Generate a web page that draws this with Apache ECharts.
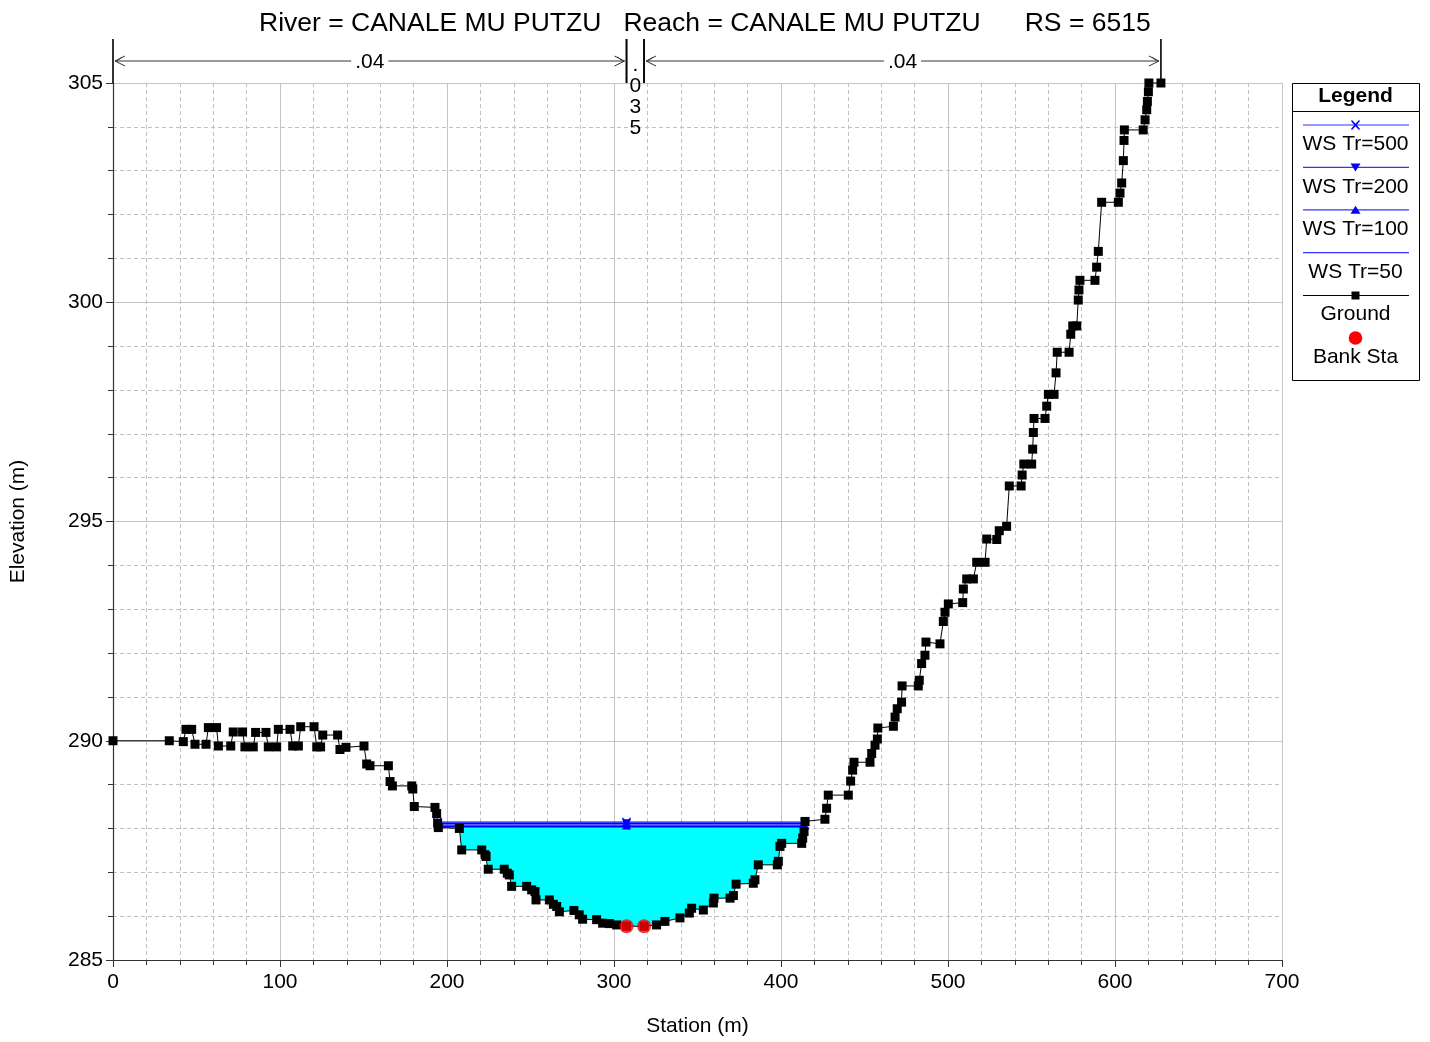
<!DOCTYPE html>
<html><head><meta charset="utf-8">
<script src="https://cdn.jsdelivr.net/npm/echarts@6/dist/echarts.min.js"></script>
<style>html,body{margin:0;padding:0;background:#fff}#c{width:1430px;height:1042px}</style>
</head><body><div id="c"></div>
<script>
// ---- data ----
const titleText = 'River = CANALE MU PUTZU   Reach = CANALE MU PUTZU      RS = 6515';
const groundX = [0,33.7,42.1,43.7,47.1,49.1,55.7,57.1,62.0,63.1,70.5,72.0,77.6,79.0,84.0,85.4,91.6,93.0,98.0,99.0,106.0,107.6,111.0,112.4,120.4,122.0,124.3,125.6,134.5,135.9,139.5,150.3,151.9,153.9,164.9,165.9,167.3,178.9,179.5,180.4,192.8,193.8,194.4,194.8,207.4,208.8,220.8,222.8,223.4,224.7,234.3,236.1,237.3,238.7,247.7,250.7,252.7,253.3,261.3,263.7,265.7,267.3,276.0,279.2,281.2,289.6,293.2,297.2,301.6,307.5,318.0,325.5,330.5,339.5,345.1,346.5,353.5,359.5,359.9,369.5,371.5,373.1,383.4,384.4,386.4,397.8,398.4,399.4,400.4,412.4,413.0,413.8,414.4,426.3,427.3,428.3,440.3,441.7,442.9,443.7,453.3,454.3,456.3,457.7,458.0,467.3,468.3,469.6,472.2,472.5,482.2,482.8,484.2,486.2,486.8,495.2,497.2,498.2,500.2,508.8,509.2,511.2,515.2,517.2,522.2,523.2,529.2,530.7,535.1,536.7,543.8,544.4,545.4,550.1,550.7,551.1,551.5,558.1,559.1,560.1,563.5,564.7,565.4,572.5,573.5,574.7,577.1,578.0,578.4,579.0,588.0,589.0,590.0,592.0,602.0,603.0,604.0,605.0,605.4,605.6,616.9,618.0,619.0,619.4,620.0,620.3,627.5];
const groundY = [290.00,290.00,289.98,290.26,290.26,289.92,289.92,290.30,290.30,289.88,289.88,290.20,290.20,289.86,289.86,290.19,290.19,289.86,289.86,290.26,290.26,289.88,289.88,290.32,290.32,289.86,289.86,290.13,290.13,289.80,289.85,289.88,289.47,289.43,289.43,289.07,288.97,288.97,288.90,288.50,288.48,288.34,288.12,288.02,288.00,287.51,287.51,287.40,287.36,287.07,287.07,286.98,286.94,286.68,286.68,286.60,286.56,286.37,286.37,286.27,286.22,286.10,286.13,286.03,285.93,285.92,285.84,285.83,285.80,285.77,285.77,285.80,285.88,285.96,286.07,286.18,286.14,286.30,286.41,286.41,286.47,286.73,286.75,286.83,287.17,287.17,287.25,287.59,287.66,287.66,287.78,287.93,288.16,288.21,288.46,288.76,288.76,289.08,289.33,289.51,289.51,289.71,289.90,290.04,290.29,290.33,290.54,290.73,290.88,291.25,291.25,291.38,291.76,291.95,292.25,292.21,292.72,292.93,293.12,293.15,293.46,293.69,293.69,294.07,294.07,294.60,294.59,294.79,294.89,295.81,295.81,296.06,296.31,296.31,296.65,297.03,297.35,297.35,297.63,297.90,297.90,298.39,298.86,298.86,299.27,299.46,299.46,300.05,300.28,300.50,300.50,300.80,301.16,302.28,302.28,302.49,302.72,303.23,303.69,303.93,303.93,304.16,304.39,304.58,304.80,305.00,305.00];
const bankSta = [307.5, 318.0];
const wsNames = ['WS Tr=500', 'WS Tr=200', 'WS Tr=100', 'WS Tr=50'];
const wsElev = [288.145, 288.11, 288.076, 288.04];
const nZoneBounds = [0, 307.5, 318.0, 627.5];
const nValues = ['.04', '.035', '.04'];
const xRange = [0, 700, 100];
const yRange = [285, 305, 5];

// ---- helpers ----
const ground = groundX.map((x, i) => [x, groundY[i]]);
function groundAt(x) {
  for (let i = 0; i < groundX.length - 1; i++) {
    if (x >= groundX[i] && x <= groundX[i + 1]) {
      const t = groundX[i + 1] === groundX[i] ? 0 : (x - groundX[i]) / (groundX[i + 1] - groundX[i]);
      return groundY[i] + t * (groundY[i + 1] - groundY[i]);
    }
  }
  return groundY[groundY.length - 1];
}
let thal = 0;
groundY.forEach((y, i) => { if (y < groundY[thal]) thal = i; });
function wsEdges(ws) {
  let i = thal;
  while (i > 0 && groundY[i - 1] < ws) i--;
  const a = i - 1;
  const xl = groundX[a] + (ws - groundY[a]) / (groundY[i] - groundY[a]) * (groundX[i] - groundX[a]);
  let j = thal;
  while (j < groundY.length - 1 && groundY[j + 1] < ws) j++;
  const b = j + 1;
  const xr = groundX[j] + (ws - groundY[j]) / (groundY[b] - groundY[j]) * (groundX[b] - groundX[j]);
  return [xl, xr, i, j];
}
const wsLow = Math.min(...wsElev);
const eLow = wsEdges(wsLow);
const waterPoly = [[eLow[0], wsLow]];
for (let k = eLow[2]; k <= eLow[3]; k++) waterPoly.push([groundX[k], groundY[k]]);
waterPoly.push([eLow[1], wsLow]);

const FONT = '"Liberation Sans", Arial, sans-serif';
const blue = '#0000ff';
const xSym = 'path://M0,1L1,0L5,4L9,0L10,1L6,5L10,9L9,10L5,6L1,10L0,9L4,5Z';
const wsSymbols = [xSym, 'path://M0,0L10,0L5,9Z', 'triangle', 'none'];

const wsSeries = wsElev.map((ws, k) => {
  const e = wsEdges(ws);
  return {
    name: wsNames[k], type: 'line', z: 3,
    data: [[e[0], ws], [bankSta[0], ws], [e[1], ws]],
    symbol: wsSymbols[k], symbolSize: 9, showSymbol: wsSymbols[k] !== 'none',
    lineStyle: { color: blue, width: 1.4 }, itemStyle: { color: blue },
    clip: false, silent: true
  };
});

function renderN(params, api) {
  const i = params.dataIndex;
  const a = api.coord([api.value(0), api.value(2)]);
  const b = api.coord([api.value(1), api.value(2)]);
  const yTop = a[1];
  const yArr = yTop - 22;
  const ch = [];
  const bl = { stroke: '#000', lineWidth: 1.6 };
  ch.push({ type: 'line', shape: { x1: a[0], y1: yTop - 44, x2: a[0], y2: yTop }, style: bl });
  ch.push({ type: 'line', shape: { x1: b[0], y1: yTop - 44, x2: b[0], y2: yTop }, style: bl });
  const w = b[0] - a[0];
  const label = nValues[i];
  if (w > 60) {
    const ls = { stroke: '#333', lineWidth: 1, fill: null };
    ch.push({ type: 'line', shape: { x1: a[0] + 2, y1: yArr, x2: b[0] - 2, y2: yArr }, style: ls });
    ch.push({ type: 'polyline', shape: { points: [[a[0] + 12, yArr - 5], [a[0] + 2, yArr], [a[0] + 12, yArr + 5]] }, style: ls });
    ch.push({ type: 'polyline', shape: { points: [[a[0] + 9, yArr - 4], [a[0] + 4, yArr]] }, style: ls });
    ch.push({ type: 'polyline', shape: { points: [[b[0] - 12, yArr - 5], [b[0] - 2, yArr], [b[0] - 12, yArr + 5]] }, style: ls });
    ch.push({ type: 'polyline', shape: { points: [[b[0] - 9, yArr - 4], [b[0] - 4, yArr]] }, style: ls });
    ch.push({ type: 'text', x: (a[0] + b[0]) / 2, y: yArr + 1, style: { text: label, font: '21px ' + FONT, fill: '#000', align: 'center', verticalAlign: 'middle', backgroundColor: '#fff', padding: [0, 4] } });
  } else {
    ch.push({ type: 'text', x: (a[0] + b[0]) / 2, y: yTop - 28, style: { text: label.split('').join('\n'), font: '21px ' + FONT, lineHeight: 21, fill: '#000', align: 'center', verticalAlign: 'top' } });
  }
  return { type: 'group', children: ch };
}

function renderWater(params, api) {
  if (params.dataIndex !== 0) return null;
  return { type: 'polygon', shape: { points: waterPoly.map(p => api.coord(p)) }, style: { fill: '#00ffff', stroke: null } };
}

// ---- legend (graphic) ----
const LX = 1292, LY = 83, LW = 127, LH = 297, LC = LX + LW / 2;
const legendEls = [
  { type: 'rect', shape: { x: LX + 0.5, y: LY + 0.5, width: LW, height: LH }, style: { fill: '#fff', stroke: '#000', lineWidth: 1 }, z: 10 },
  { type: 'text', x: LC, y: LY + 13, style: { text: 'Legend', font: 'bold 21px ' + FONT, fill: '#000', align: 'center', verticalAlign: 'middle' }, z: 11 },
  { type: 'line', shape: { x1: LX, y1: LY + 28.5, x2: LX + LW, y2: LY + 28.5 }, style: { stroke: '#000', lineWidth: 1 }, z: 11 }
];
const legSymPts = [
  [[-4.5,-4],[-3.5,-5],[0,-1.2],[3.5,-5],[4.5,-4],[1.2,0],[4.5,4],[3.5,5],[0,1.2],[-3.5,5],[-4.5,4],[-1.2,0]],
  [[-5,-4],[5,-4],[0,4]],
  [[-5,4],[5,4],[0,-4]],
  null
];
wsNames.forEach((nm, k) => {
  const ly = 125 + 42.4 * k + (k === 3 ? 0.5 : 0);
  legendEls.push({ type: 'line', shape: { x1: 1303, y1: ly, x2: 1409, y2: ly }, style: { stroke: '#3333ff', lineWidth: 1.2 }, z: 11 });
  if (legSymPts[k]) legendEls.push({ type: 'polygon', shape: { points: legSymPts[k].map(p => [LC + p[0], ly + p[1]]) }, style: { fill: blue }, z: 12 });
  legendEls.push({ type: 'text', x: LC, y: ly + 19.5, style: { text: nm, font: '21px ' + FONT, fill: '#000', align: 'center', verticalAlign: 'middle' }, z: 11 });
});
legendEls.push({ type: 'line', shape: { x1: 1303, y1: 295.5, x2: 1409, y2: 295.5 }, style: { stroke: '#000', lineWidth: 1.2 }, z: 11 });
legendEls.push({ type: 'rect', shape: { x: LC - 4, y: 291.5, width: 8, height: 8 }, style: { fill: '#000' }, z: 12 });
legendEls.push({ type: 'text', x: LC, y: 314.5, style: { text: 'Ground', font: '21px ' + FONT, fill: '#000', align: 'center', verticalAlign: 'middle' }, z: 11 });
legendEls.push({ type: 'circle', shape: { cx: LC, cy: 338, r: 6.8 }, style: { fill: '#ff0000' }, z: 12 });
legendEls.push({ type: 'text', x: LC, y: 357.5, style: { text: 'Bank Sta', font: '21px ' + FONT, fill: '#000', align: 'center', verticalAlign: 'middle' }, z: 11 });

const axisCommon = {
  axisLine: { show: true, onZero: false, lineStyle: { color: '#333', width: 1.2 } },
  axisTick: { show: true, length: 7, lineStyle: { color: '#333' } },
  minorTick: { show: true, splitNumber: 5, length: 5, lineStyle: { color: '#333' } },
  splitLine: { show: true, lineStyle: { color: '#c4c4c4', width: 1 } },
  minorSplitLine: { show: true, lineStyle: { color: '#c0c0c0', type: [4, 3], width: 1 } },
  axisLabel: { color: '#000', fontSize: 21, fontFamily: FONT },
  nameLocation: 'middle',
  nameTextStyle: { color: '#000', fontSize: 21, fontFamily: FONT }
};

const chart = echarts.init(document.getElementById('c'), null, { renderer: 'canvas' });
chart.setOption({
  animation: false,
  backgroundColor: '#fff',
  title: { text: titleText, left: 254, top: 5, textStyle: { fontSize: 26.5, fontWeight: 'normal', color: '#000', fontFamily: FONT } },
  grid: { left: 113, right: 148, top: 83, bottom: 80, containLabel: false },
  xAxis: Object.assign({}, axisCommon, {
    type: 'value', min: xRange[0], max: xRange[1], interval: xRange[2],
    name: 'Station (m)', nameGap: 56,
    axisLabel: Object.assign({}, axisCommon.axisLabel, { margin: 12 })
  }),
  yAxis: Object.assign({}, axisCommon, {
    type: 'value', min: yRange[0], max: yRange[1], interval: yRange[2],
    name: 'Elevation (m)', nameGap: 84,
    axisLabel: Object.assign({}, axisCommon.axisLabel, { margin: 10 })
  }),
  graphic: legendEls,
  series: [
    { type: 'custom', name: 'water', z: 1, silent: true, data: waterPoly, renderItem: renderWater, encode: { x: 0, y: 1 } },
    ...wsSeries,
    { name: 'Ground', type: 'line', z: 4, data: ground, symbol: 'rect', symbolSize: 9, showAllSymbol: true,
      lineStyle: { color: '#000', width: 1 }, itemStyle: { color: '#000' }, clip: false, silent: true },
    { name: 'Bank Sta', type: 'scatter', z: 6, data: bankSta.map(x => [x, groundAt(x)]), symbol: 'circle', symbolSize: 14,
      itemStyle: { color: '#ff0000' }, silent: true },
    { type: 'custom', name: 'n', z: 7, silent: true, clip: false,
      data: nValues.map((v, i) => [nZoneBounds[i], nZoneBounds[i + 1], yRange[1]]),
      encode: { x: [0, 1], y: 2 }, renderItem: renderN }
  ]
});
</script></body></html>
